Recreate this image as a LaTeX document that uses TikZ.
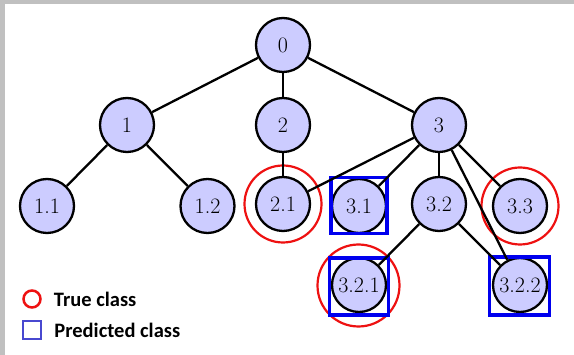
\documentclass[tikz,border=0pt]{standalone}
\usepackage{fontspec}
\newfontfamily\keyfont{Carlito}
\usetikzlibrary{positioning}

\definecolor{classfill}{HTML}{CCCCFF}
\definecolor{truered}{HTML}{EE1111}
\definecolor{predblue}{HTML}{0000EE}
\definecolor{keyblue}{HTML}{4848D0}
\definecolor{framegray}{HTML}{C0C0C0}

\begin{document}
\begin{tikzpicture}[
  x=1pt, y=-1pt,
  cls/.style={circle, draw=black, line width=2.3pt, fill=classfill, minimum size=54pt, inner sep=0pt, font=\fontsize{22}{26}\selectfont},
  link/.style={line width=2.3pt},
  truemark/.style={circle, draw=truered, line width=2.2pt, inner sep=0pt},
  predmark/.style={rectangle, draw=predblue, line width=3.2pt, inner sep=0pt},
  keytext/.style={inner sep=0pt, font=\keyfont\bfseries\fontsize{20.5}{24}\selectfont}
]

% frame
\fill[framegray] (0,0) rectangle (574,355);
\fill[white] (5,4) rectangle (574,355);

% class hierarchy
\node (c0) [cls] at (283,45) {0};
\node (c1) [cls] at (127,125) {1};
\node (c2) [cls] at (283,125) {2};
\node (c3) [cls] at (439,125) {3};
\node (c11) [cls] at (47,206) {1.1};
\node (c12) [cls] at (207.5,206) {1.2};
\node (c21) [cls] at (283,204) {2.1};
\node (c31) [cls] at (359,206) {3.1};
\node (c32) [cls] at (439,204) {3.2};
\node (c33) [cls] at (520,206) {3.3};
\node (c321) [cls] at (359,285) {3.2.1};
\node (c322) [cls] at (520,285) {3.2.2};

% true classes
\node [truemark, minimum size=77pt] at (c21) {};
\node [truemark, minimum size=77pt] at (c33) {};
\node [truemark, minimum size=82pt] at (358.5,285.5) {};

% predicted classes
\node [predmark, minimum width=56pt, minimum height=56pt] at (359,205.5) {};
\node [predmark, minimum width=59pt, minimum height=57pt] at (359,286.5) {};
\node [predmark, minimum width=60pt, minimum height=58pt] at (519.5,286) {};

\draw[link] (c0) -- (c1);
\draw[link] (c0) -- (c2);
\draw[link] (c0) -- (c3);
\draw[link] (c1) -- (c11);
\draw[link] (c1) -- (c12);
\draw[link] (c2) -- (c21);
\draw[link] (c3) -- (c21);
\draw[link] (c3) -- (c31);
\draw[link] (c3) -- (c32);
\draw[link] (c3) -- (c33);
\draw[link] (c3) -- (c322);
\draw[link] (c32) -- (c321);
\draw[link] (c32) -- (c322);

% legend
\node (keytrue) [circle, draw=truered, line width=2.5pt, minimum size=17pt, inner sep=0pt] at (32,299) {};
\node (keytruetext) [keytext, right=12pt of keytrue] {True class};
\node (keypred) [rectangle, draw=keyblue, line width=2.5pt, minimum size=18pt, inner sep=0pt] at (32,330) {};
\node (keypredtext) [keytext, right=12pt of keypred] {Predicted class};

\end{tikzpicture}
\end{document}
